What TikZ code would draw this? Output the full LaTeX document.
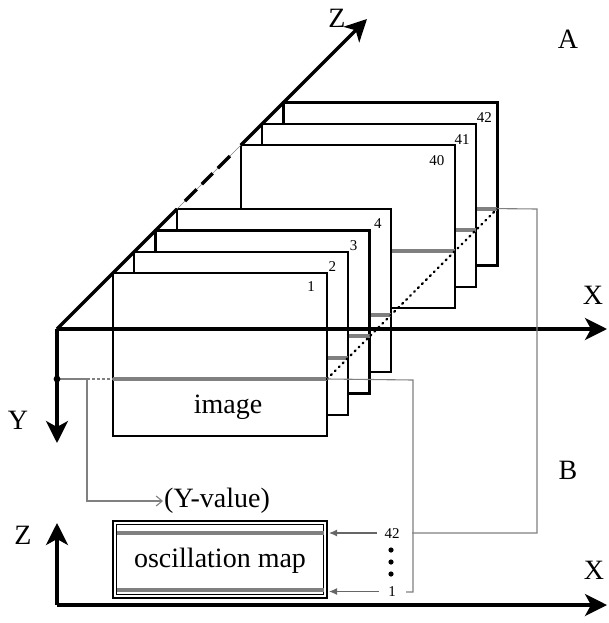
\documentclass[tikz,border=0pt]{standalone}
\usepackage{fontspec}
\setmainfont{Liberation Serif}
\usetikzlibrary{arrows.meta,calc}
\begin{document}
\begin{tikzpicture}[x=1pt,y=-1pt,
  axisline/.style={line width=3.4pt},
  axis/.style={axisline, -{Stealth[length=22pt,width=22pt,inset=6pt]}},
  frame/.style={draw, fill=white, line width=2.3pt, minimum width=214pt, minimum height=163pt, inner sep=0pt, outer sep=0pt, anchor=north west},
  rowline/.style={draw=black!50, line width=4pt},
  thinline/.style={draw=black!50, line width=1.1pt},
  big/.style={font=\fontsize{28}{30}\selectfont, inner sep=1pt},
  small/.style={font=\fontsize{15}{17}\selectfont, inner sep=1pt},
  smallarrow/.style={thinline, -{Latex[length=8pt,width=7pt]}, draw=black!60},
]
\path[use as bounding box] (0,0) rectangle (608,623);

% stacked frames (back to front)
\foreach \i/\lab/\dx/\dy in {9/42/-13/15,8/41/-14/16,7/40/-18/15,4/4/-13/14,3/3/-16/15,2/2/-16/15,1/1/-16/14} {
  \pgfmathsetmacro\L{113+21.3*(\i-1)}
  \pgfmathsetmacro\T{273-21.3*(\i-1)}
  \node[frame] (f\lab) at (\L,\T) {};
  \draw[rowline] ([yshift=-106pt]f\lab.north west) -- ([yshift=-106pt]f\lab.north east);
  \node[small] (l\lab) at ([xshift=\dx pt,yshift=-\dy pt]f\lab.north east) {\lab};
}
\coordinate (r1) at ([yshift=-106pt]f1.north east);
\coordinate (r42) at ([yshift=-106pt]f42.north east);

% axes of the stack
\coordinate (O) at (57,329);
\coordinate (Xend) at (607,329);
\coordinate (Yend) at (57,443);
\coordinate (Zend) at (367,19);
\draw[axis] (O) -- (Xend);
\draw[axis] (O) -- (Yend);
\draw[axisline] (O) -- (f4.north west);
\draw[thinline, line width=0.7pt] (f4.north west) -- (f40.north west);
\foreach \a/\b in {0.125/0.31,0.39/0.56,0.64/0.83}
  \draw[axisline] ($(f4.north west)!\a!(f40.north west)$) -- ($(f4.north west)!\b!(f40.north west)$);
\draw[axis] (f40.north west) -- (Zend);

% dotted diagonal through the row ends
\draw[line width=2.4pt, dash pattern=on 1pt off 4.6pt, line cap=round] (r1) -- (r42);

% labels
\node[big] (tA) at (568,39) {A};
\node[big] (tB) at (568,470) {B};
\node[big] (tX1) at (593,295) {X};
\node[big] (tX2) at (594,570) {X};
\node[big] (tZ1) at (337,18) {Z};
\node[big] (tY) at (18,420) {Y};
\node[big] (tZ2) at (23,535) {Z};
\node[big] (timg) at (228,407) {image};

% Y value selection
\coordinate (yd) at (57,379);
\coordinate (yb) at (87,379);
\draw[thinline] (yd) -- (yb);
\fill (yd) circle (3.4pt);
\draw[thinline, dash pattern=on 3pt off 2pt] (yb) -- (f1.north west |- yb);
\node[big, anchor=west] (yv) at (163,501) {(Y-value)};
\draw[thinline, -{Straight Barb[length=6pt,width=10pt]}] (yb) |- (yv.west);

% oscillation map
\node[draw, line width=2.2pt, minimum width=214pt, minimum height=77pt, inner sep=0pt, outer sep=0pt, anchor=north west] (box) at (113,521) {};
\draw[line width=0.8pt] ([shift={(3.5pt,-3.5pt)}]box.north west) rectangle ([shift={(-3.5pt,3.5pt)}]box.south east);
\draw[rowline] ([shift={(3.5pt,-12pt)}]box.north west) -- ([shift={(-3.5pt,-12pt)}]box.north east);
\draw[rowline] ([shift={(3.5pt,8pt)}]box.south west) -- ([shift={(-3.5pt,8pt)}]box.south east);
\node[big] (tosc) at ([yshift=-1.5pt]box.center) {oscillation map};

% lower axes
\coordinate (O2) at (57,605);
\draw[axis] (O2) -- (607,605);
\draw[axis] (O2) -- (57,523);

% row indices
\node[small] (n42) at (392,534) {42};
\node[small] (n1) at (392,592) {1};
\fill (391,550) circle (2.6pt);
\fill (391,562) circle (2.6pt);
\fill (391,574) circle (2.6pt);
\coordinate (c42a) at (537,209);
\coordinate (c42b) at (537,533);
\coordinate (c42c) at (412,533);
\coordinate (c1a) at (413,380);
\coordinate (c1b) at (413,592);
\coordinate (c1c) at (406,592);
\draw[thinline] (r42) -- (c42a) -- (c42b) -- (c42c);
\draw[thinline] (r1) -- (c1a) -- (c1b) -- (c1c);
\draw[smallarrow] (377,533) -- ([xshift=2pt]box.east |- 0,533);
\draw[smallarrow] (379,591.5) -- ([xshift=2pt]box.east |- 0,591.5);
\end{tikzpicture}
\end{document}
